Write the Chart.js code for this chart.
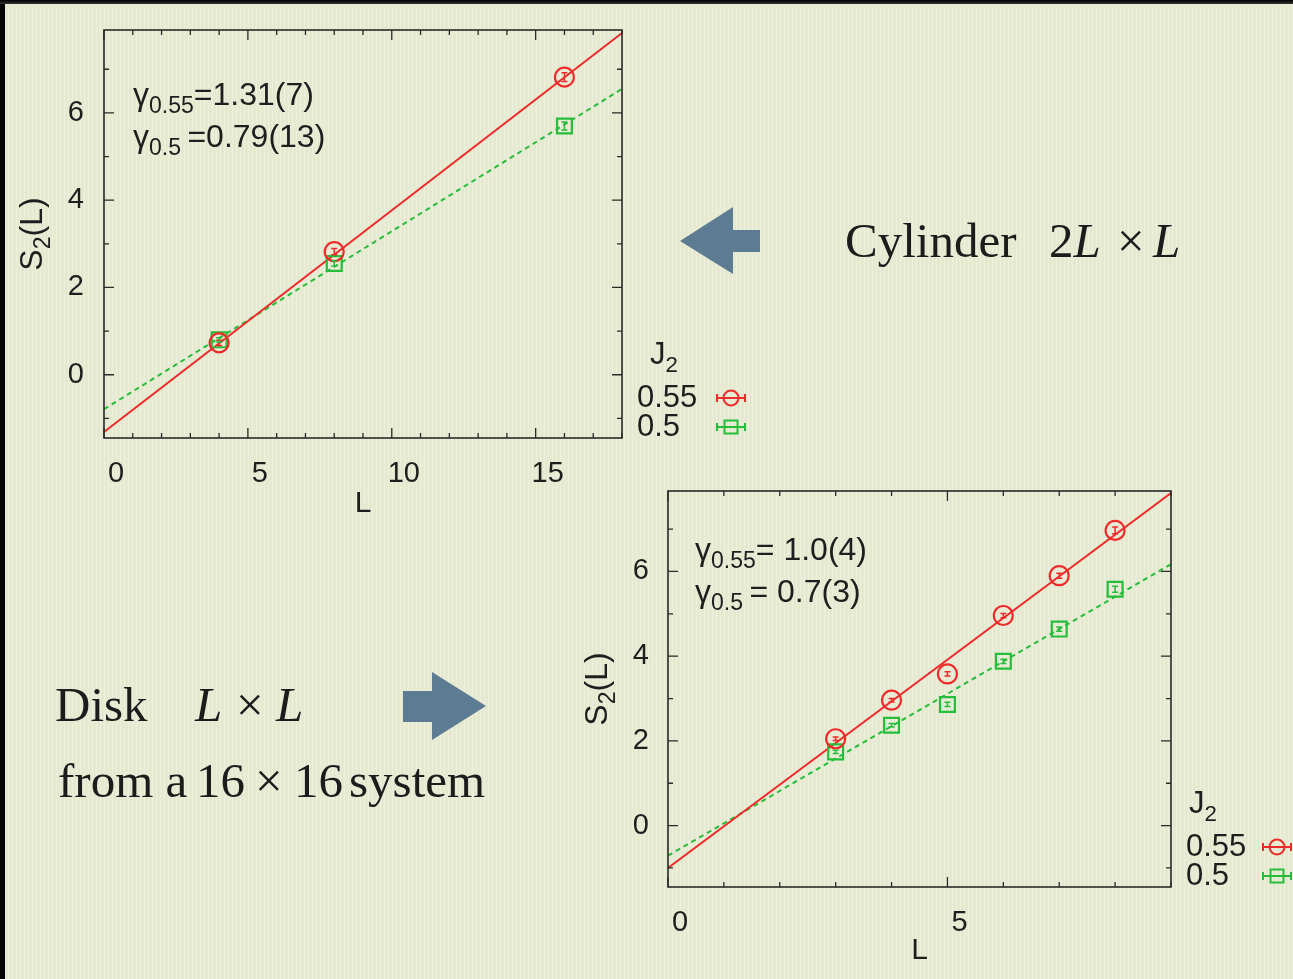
<!DOCTYPE html>
<html>
<head>
<meta charset="utf-8">
<script src="https://cdn.jsdelivr.net/npm/chart.js@4.4.0/dist/chart.umd.min.js"></script>
<style>
  html, body { margin: 0; padding: 0; }
  body {
    width: 1293px; height: 979px; position: relative; overflow: hidden;
    background-color: #e8ecd3;
    background-image: repeating-linear-gradient(90deg, rgba(255,255,255,0.16) 0px, rgba(255,255,255,0.16) 1px, rgba(110,120,80,0.05) 2px, rgba(255,255,255,0) 4px);
    font-family: "Liberation Serif", "DejaVu Serif", serif; color: #1c1c1c;
  }
  .txt { position: absolute; font-size: 49px; line-height: 1; white-space: pre; }
  .txt i { font-style: italic; }
  #edgeLeft { position: absolute; left: 0; top: 0; width: 5px; height: 979px; background: #050505; }
  #edgeTop { position: absolute; left: 0; top: 0; width: 1293px; height: 4px; background: linear-gradient(#000, #333); }
  #topWrap { position: absolute; left: 0; top: 0; }
  #botWrap { position: absolute; left: 560px; top: 470px; }
  svg { position: absolute; left: 0; top: 0; }
</style>
</head>
<body>
<div id="edgeLeft"></div>
<div id="edgeTop"></div>

<svg width="1293" height="979">
  <polygon points="680,241 733,207 733,230 760,230 760,252 733,252 733,274" fill="#5e7b94"/>
  <polygon points="403,691 432,691 432,672 486,706 432,740 432,722 403,722" fill="#5e7b94"/>
</svg>

<div class="txt" style="left:845px; top:216px;">Cylinder</div>
<div class="txt" style="left:1049px; top:216px;">2<i>L</i></div>
<div class="txt" style="left:1117px; top:216px;">×</div>
<div class="txt" style="left:1153px; top:216px;"><i>L</i></div>
<div class="txt" style="left:55px; top:680px;">Disk</div>
<div class="txt" style="left:195px; top:680px;"><i>L</i></div>
<div class="txt" style="left:236px; top:680px;">×</div>
<div class="txt" style="left:276px; top:680px;"><i>L</i></div>
<div class="txt" style="left:58px; top:756px;">from a</div>
<div class="txt" style="left:196px; top:756px;">16</div>
<div class="txt" style="left:255px; top:756px;">×</div>
<div class="txt" style="left:294px; top:756px;">16</div>
<div class="txt" style="left:349px; top:756px;">system</div>

<div id="topWrap"><canvas id="cylChart" width="780" height="530"></canvas></div>
<div id="botWrap"><canvas id="diskChart" width="733" height="509"></canvas></div>

<script>
// Cylinder 2L x L
const cylL = [4, 8, 16];
const cylS055 = [0.73, 2.82, 6.82];
const cylS050 = [0.80, 2.55, 5.70];
const cylErr055 = [0.06, 0.07, 0.10];
const cylErr050 = [0.05, 0.06, 0.09];
const cylFitL = [0, 18];
const cylFit055 = [-1.31, 7.83];
const cylFit050 = [-0.79, 6.55];
const cylXTicks = [0, 5, 10, 15];

// Disk L x L from a 16 x 16 system
const diskL = [3, 4, 5, 6, 7, 8];
const diskS055 = [2.05, 2.96, 3.58, 4.96, 5.90, 6.97];
const diskS050 = [1.74, 2.37, 2.86, 3.88, 4.64, 5.58];
const diskErr055 = [0.04, 0.04, 0.05, 0.05, 0.06, 0.08];
const diskErr050 = [0.04, 0.04, 0.05, 0.05, 0.05, 0.07];
const diskFitL = [0, 9];
const diskFit055 = [-1.0, 7.85];
const diskFit050 = [-0.71, 6.17];
const diskXTicks = [0, 5];

const yTicks = [0, 2, 4, 6];
const seriesLabels = ['0.55', '0.5'];

const RED = '#ee2b2b';
const GREEN = '#26bd3b';
const INK = '#1e1e1e';
const SANS = '"Liberation Sans", Arial, sans-serif';

Chart.defaults.font.family = SANS;
Chart.defaults.color = INK;

function pts(xs, ys) {
  return xs.map((x, i) => ({ x: x, y: ys[i] }));
}

// text with subscripts, parts = [[text, isSub], ...]
function rich(ctx, parts, x, y, size, measureOnly) {
  let w = 0;
  for (const [t, sub] of parts) {
    const s = sub ? size * 0.72 : size;
    ctx.font = s + 'px ' + SANS;
    if (!measureOnly) ctx.fillText(t, x + w, y + (sub ? size * 0.26 : 0));
    w += ctx.measureText(t).width;
  }
  return w;
}

function drawMarker(ctx, style, x, y) {
  ctx.beginPath();
  if (style === 'circle') ctx.arc(x, y, 7.5, 0, Math.PI * 2);
  else ctx.rect(x - 6.5, y - 6.5, 13, 13);
  ctx.stroke();
}

const gnuStyle = {
  id: 'gnuStyle',
  afterDatasetsDraw(chart) {
    const { ctx, scales: { x, y } } = chart;
    ctx.save();
    ctx.lineWidth = 1.5;
    chart.data.datasets.forEach(ds => {
      if (!ds.err) return;
      ctx.strokeStyle = ds.borderColor;
      ds.data.forEach((p, i) => {
        const px = x.getPixelForValue(p.x);
        const y1 = y.getPixelForValue(p.y - ds.err[i]);
        const y2 = y.getPixelForValue(p.y + ds.err[i]);
        ctx.beginPath();
        ctx.moveTo(px, y1); ctx.lineTo(px, y2);
        ctx.moveTo(px - 3, y1); ctx.lineTo(px + 3, y1);
        ctx.moveTo(px - 3, y2); ctx.lineTo(px + 3, y2);
        ctx.stroke();
      });
    });
    ctx.restore();
  },
  afterDraw(chart, args, opts) {
    const { ctx, chartArea: a, scales: { x, y } } = chart;
    ctx.save();
    // frame
    ctx.strokeStyle = '#2a2a2a';
    ctx.lineWidth = 1.6;
    ctx.strokeRect(a.left, a.top, a.right - a.left, a.bottom - a.top);
    // inward ticks, mirrored
    ctx.lineWidth = 1.3;
    ctx.beginPath();
    for (let v = Math.ceil(x.min); v <= x.max; v += 1) {
      const px = x.getPixelForValue(v);
      const len = v % 5 === 0 ? 10 : 5;
      ctx.moveTo(px, a.bottom); ctx.lineTo(px, a.bottom - len);
      ctx.moveTo(px, a.top); ctx.lineTo(px, a.top + len);
    }
    for (let v = Math.ceil(y.min); v <= y.max; v += 1) {
      const py = y.getPixelForValue(v);
      const len = v % 2 === 0 ? 10 : 5;
      ctx.moveTo(a.left, py); ctx.lineTo(a.left + len, py);
      ctx.moveTo(a.right, py); ctx.lineTo(a.right - len, py);
    }
    ctx.stroke();

    ctx.fillStyle = INK;
    ctx.textBaseline = 'alphabetic';
    ctx.textAlign = 'left';

    // fit annotations
    opts.notes.forEach((line, i) => {
      rich(ctx, line, a.left + opts.noteX, a.top + opts.noteY + i * 42, 32);
    });

    // y title S2(L), rotated
    const title = [['S', false], ['2', true], ['(L)', false]];
    const tw = rich(ctx, title, 0, 0, 32, true);
    ctx.save();
    ctx.translate(a.left - opts.titleGap, (a.top + a.bottom) / 2);
    ctx.rotate(-Math.PI / 2);
    rich(ctx, title, -tw / 2, 11, 32);
    ctx.restore();

    // legend
    rich(ctx, [['J', false], ['2', true]], a.right + opts.legTitleX, a.bottom - 74, 31);
    ctx.textBaseline = 'middle';
    chart.data.datasets.slice(0, 2).forEach((ds, i) => {
      const ly = a.bottom - 40 + i * 29;
      ctx.fillStyle = INK;
      ctx.font = '31px ' + SANS;
      ctx.fillText(seriesLabels[i], a.right + 15, ly);
      const sx = a.right + opts.legSymX;
      ctx.strokeStyle = ds.borderColor;
      ctx.lineWidth = 2;
      ctx.beginPath();
      ctx.moveTo(sx - 14, ly); ctx.lineTo(sx + 14, ly);
      ctx.moveTo(sx - 14, ly - 4); ctx.lineTo(sx - 14, ly + 4);
      ctx.moveTo(sx + 14, ly - 4); ctx.lineTo(sx + 14, ly + 4);
      ctx.stroke();
      drawMarker(ctx, ds.pointStyle, sx, ly);
    });
    ctx.restore();
  }
};

function makeChart(id, d) {
  return new Chart(document.getElementById(id), {
    type: 'scatter',
    data: {
      datasets: [
        { label: seriesLabels[0], data: pts(d.L, d.s055), err: d.e055, borderColor: RED,
          pointStyle: 'circle', pointRadius: 9.5, pointHoverRadius: 9.5, pointBorderWidth: 2.2,
          pointBorderColor: RED, pointBackgroundColor: 'rgba(0,0,0,0)' },
        { label: seriesLabels[1], data: pts(d.L, d.s050), err: d.e050, borderColor: GREEN,
          pointStyle: 'rect', pointRadius: 10.5, pointHoverRadius: 10.5, pointBorderWidth: 2.2,
          pointBorderColor: GREEN, pointBackgroundColor: 'rgba(0,0,0,0)' },
        { data: pts(d.fitL, d.f055), showLine: true, pointRadius: 0, borderColor: RED, borderWidth: 2 },
        { data: pts(d.fitL, d.f050), showLine: true, pointRadius: 0, borderColor: GREEN, borderWidth: 2,
          borderDash: [5, 4] }
      ]
    },
    options: {
      responsive: false,
      animation: false,
      events: [],
      layout: { padding: d.pad },
      plugins: {
        legend: { display: false },
        tooltip: { enabled: false },
        gnuStyle: d.deco
      },
      scales: {
        x: {
          type: 'linear', min: 0, max: d.xMax,
          afterBuildTicks: s => { s.ticks = d.xTicks.map(v => ({ value: v })); },
          afterFit: s => { s.height = 92; s.paddingLeft = 0; s.paddingRight = 0; },
          grid: { display: false, drawTicks: false },
          border: { display: false },
          ticks: { labelOffset: 12, padding: 19, font: { size: 29 }, autoSkip: false, maxRotation: 0 },
          title: { display: true, text: 'L', font: { size: 30 }, padding: { top: 0, bottom: d.titleBottom } }
        },
        y: {
          type: 'linear', min: -1.45, max: 7.9,
          afterBuildTicks: s => { s.ticks = yTicks.map(v => ({ value: v })); },
          afterFit: s => { s.width = d.yW; s.paddingTop = 0; s.paddingBottom = 0; },
          grid: { display: false, drawTicks: false },
          border: { display: false },
          ticks: { padding: d.yPad, font: { size: 29 }, autoSkip: false }
        }
      }
    },
    plugins: [gnuStyle]
  });
}

makeChart('cylChart', {
  L: cylL, s055: cylS055, s050: cylS050, e055: cylErr055, e050: cylErr050,
  fitL: cylFitL, f055: cylFit055, f050: cylFit050,
  xTicks: cylXTicks, xMax: 18,
  pad: { left: 0, top: 30, right: 158, bottom: 0 }, yW: 104, yPad: 20, titleBottom: 8,
  deco: {
    noteX: 29, noteY: 75, titleGap: 73, legTitleX: 28, legSymX: 109,
    notes: [
      [['γ', false], ['0.55', true], ['=1.31(7)', false]],
      [['γ', false], ['0.5 ', true], ['=0.79(13)', false]]
    ]
  }
});

makeChart('diskChart', {
  L: diskL, s055: diskS055, s050: diskS050, e055: diskErr055, e050: diskErr050,
  fitL: diskFitL, f055: diskFit055, f050: diskFit050,
  xTicks: diskXTicks, xMax: 9,
  pad: { left: 0, top: 21, right: 122, bottom: 0 }, yW: 108, yPad: 19, titleBottom: 10,
  deco: {
    noteX: 27, noteY: 69, titleGap: 72, legTitleX: 18, legSymX: 106,
    notes: [
      [['γ', false], ['0.55', true], ['= 1.0(4)', false]],
      [['γ', false], ['0.5 ', true], ['= 0.7(3)', false]]
    ]
  }
});
</script>
</body>
</html>
